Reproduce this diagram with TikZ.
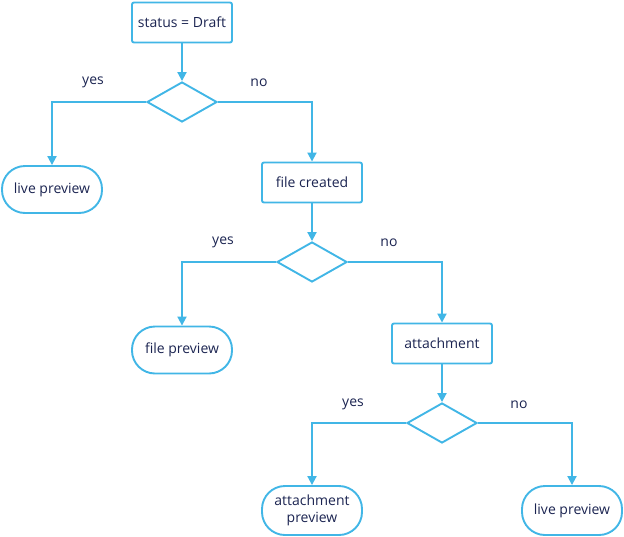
\documentclass[tikz,border=0pt]{standalone}
\usepackage{fontspec}
\setmainfont{Open Sans}
\usetikzlibrary{arrows.meta,shapes.geometric}
\definecolor{lineblue}{HTML}{41B6E6}
\definecolor{txt}{HTML}{1B2451}
\begin{document}
\begin{tikzpicture}[x=1pt,y=-1pt,
  every node/.style={text=txt,font=\fontsize{14}{17}\selectfont},
  procbox/.style={draw=lineblue,line width=1.9pt,rounded corners=2pt,minimum width=100pt,minimum height=40pt,inner sep=0pt,text depth=0.5pt},
  termbox/.style={draw=lineblue,line width=1.9pt,rounded corners=23pt,minimum width=100pt,minimum height=47pt,inner sep=0pt,align=center},
  decis/.style={draw=lineblue,line width=1.9pt,diamond,aspect=1.75,minimum width=70pt,minimum height=40pt,inner sep=0pt},
  conn/.style={draw=lineblue,line width=1.9pt,-{Triangle[length=9pt,width=9pt]}},
  lbl/.style={}]
\useasboundingbox (0,0) rectangle (624,536);
\node[procbox] (b1) at (182,22.5) {status = Draft};
\node[decis] (d1) at (182,102) {};
\node[termbox] (t1) at (52,189.5) {live preview};
\node[procbox] (b2) at (312,182.5) {file created};
\node[decis] (d2) at (312,262) {};
\node[termbox] (t2) at (182,350) {file preview};
\node[procbox] (b3) at (442,343.5) {attachment};
\node[decis] (d3) at (442,423) {};
\node[termbox,minimum height=49pt] (t3) at (312,510.5) {attachment\\preview};
\node[termbox,minimum height=49pt] (t4) at (572,510.5) {live preview};
\draw[conn] (b1) -- (d1);
\draw[conn] (d1.west) -| (t1.north);
\draw[conn] (d1.east) -| (b2.north);
\draw[conn] (b2) -- (d2);
\draw[conn] (d2.west) -| (t2.north);
\draw[conn] (d2.east) -| (b3.north);
\draw[conn] (b3) -- (d3);
\draw[conn] (d3.west) -| (t3.north);
\draw[conn] (d3.east) -| (t4.north);
\node[lbl] (y1) at (93,82) {yes};
\node[lbl] (n1) at (259,83) {no};
\node[lbl] (y2) at (223,242) {yes};
\node[lbl] (n2) at (389,243) {no};
\node[lbl] (y3) at (353,404) {yes};
\node[lbl] (n3) at (519,405) {no};
\end{tikzpicture}
\end{document}
